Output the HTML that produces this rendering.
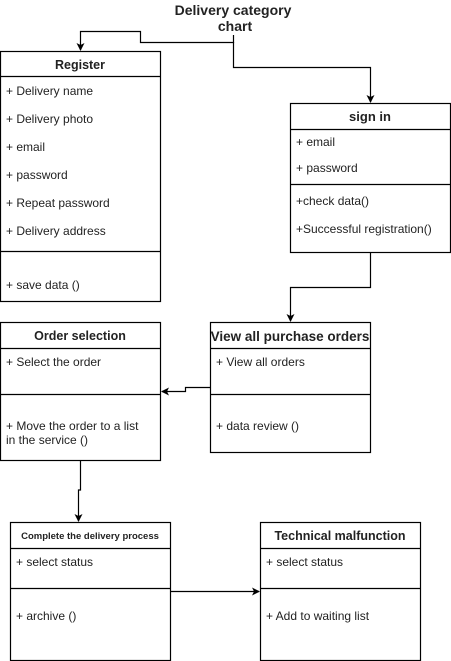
<!DOCTYPE html>
<html><head><meta charset="utf-8"><style>
html,body{margin:0;padding:0;background:#fff;width:451px;height:661px;overflow:hidden}
svg text{font-family:"Liberation Sans",Arial,sans-serif;font-size:12px;fill:#222}
.h{font-weight:bold;font-size:12.5px;text-anchor:middle}
</style></head><body>
<svg width="451" height="661" viewBox="0 0 451 661" xmlns="http://www.w3.org/2000/svg">
<defs><marker id="a" markerWidth="8" markerHeight="8" refX="7" refY="4" orient="auto" markerUnits="userSpaceOnUse"><path d="M0,0 L8,4 L0,8 L2,4 Z" fill="#000"/></marker></defs>
<g fill="none" stroke="#000" stroke-width="1.2">
<path d="M233.5,35 V42.5 H140.5 V31.5 H80.5 V50" marker-end="url(#a)"/>
<path d="M233.5,42 V67.5 H370.5 V102" marker-end="url(#a)"/>
<path d="M370.5,252 V287.5 H290.5 V321" marker-end="url(#a)"/>
<path d="M210,387.5 H185.5 V391.5 H162" marker-end="url(#a)"/>
<path d="M80.5,460 V490 H78.5 V521" marker-end="url(#a)"/>
<path d="M170,591.5 H259" marker-end="url(#a)"/>
<rect x="0.5" y="51.5" width="160" height="250"/><path d="M0.5,76.5 H160.5 M0.5,251.5 H160.5"/>
<rect x="290.5" y="103.5" width="160" height="149"/><path d="M290.5,129.5 H450.5 M290.5,184.5 H450.5"/>
<rect x="0.5" y="322.5" width="160" height="138"/><path d="M0.5,348.5 H160.5 M0.5,394.5 H160.5"/>
<rect x="210.5" y="322.5" width="160" height="130"/><path d="M210.5,348.5 H370.5 M210.5,394.5 H370.5"/>
<rect x="10.5" y="522.5" width="160" height="138"/><path d="M10.5,548.5 H170.5 M10.5,588.5 H170.5"/>
<rect x="260.5" y="522.5" width="160" height="138"/><path d="M260.5,548.5 H420.5 M260.5,588.5 H420.5"/>
</g>
<text class="h" x="233" y="15" style="font-size:14px">Delivery category</text>
<text class="h" x="235" y="31" style="font-size:14px">chart</text>

<text class="h" x="80" y="69">Register</text>
<text x="6" y="95">+ Delivery name</text>
<text x="6" y="123">+ Delivery photo</text>
<text x="6" y="151">+ email</text>
<text x="6" y="179">+ password</text>
<text x="6" y="207">+ Repeat password</text>
<text x="6" y="235">+ Delivery address</text>
<text x="6" y="289">+ save data ()</text>

<text class="h" x="370" y="121" style="font-size:13px">sign in</text>
<text x="296" y="146">+ email</text>
<text x="296" y="172">+ password</text>
<text x="296" y="205">+check data()</text>
<text x="296" y="233">+Successful registration()</text>

<text class="h" x="80" y="340">Order selection</text>
<text x="6" y="366">+ Select the order</text>
<text x="6" y="430">+ Move the order to a list</text>
<text x="6" y="444"> in the service ()</text>

<text class="h" x="290" y="341" style="font-size:13.5px">View all purchase orders</text>
<text x="216" y="366">+ View all orders</text>
<text x="216" y="430">+ data review ()</text>

<text class="h" x="90" y="539" style="font-size:9.5px">Complete the delivery process</text>
<text x="16" y="566">+ select status</text>
<text x="16" y="620">+ archive ()</text>

<text class="h" x="340" y="540">Technical malfunction</text>
<text x="266" y="566">+ select status</text>
<text x="266" y="620">+ Add to waiting list</text>
</svg>
</body></html>
